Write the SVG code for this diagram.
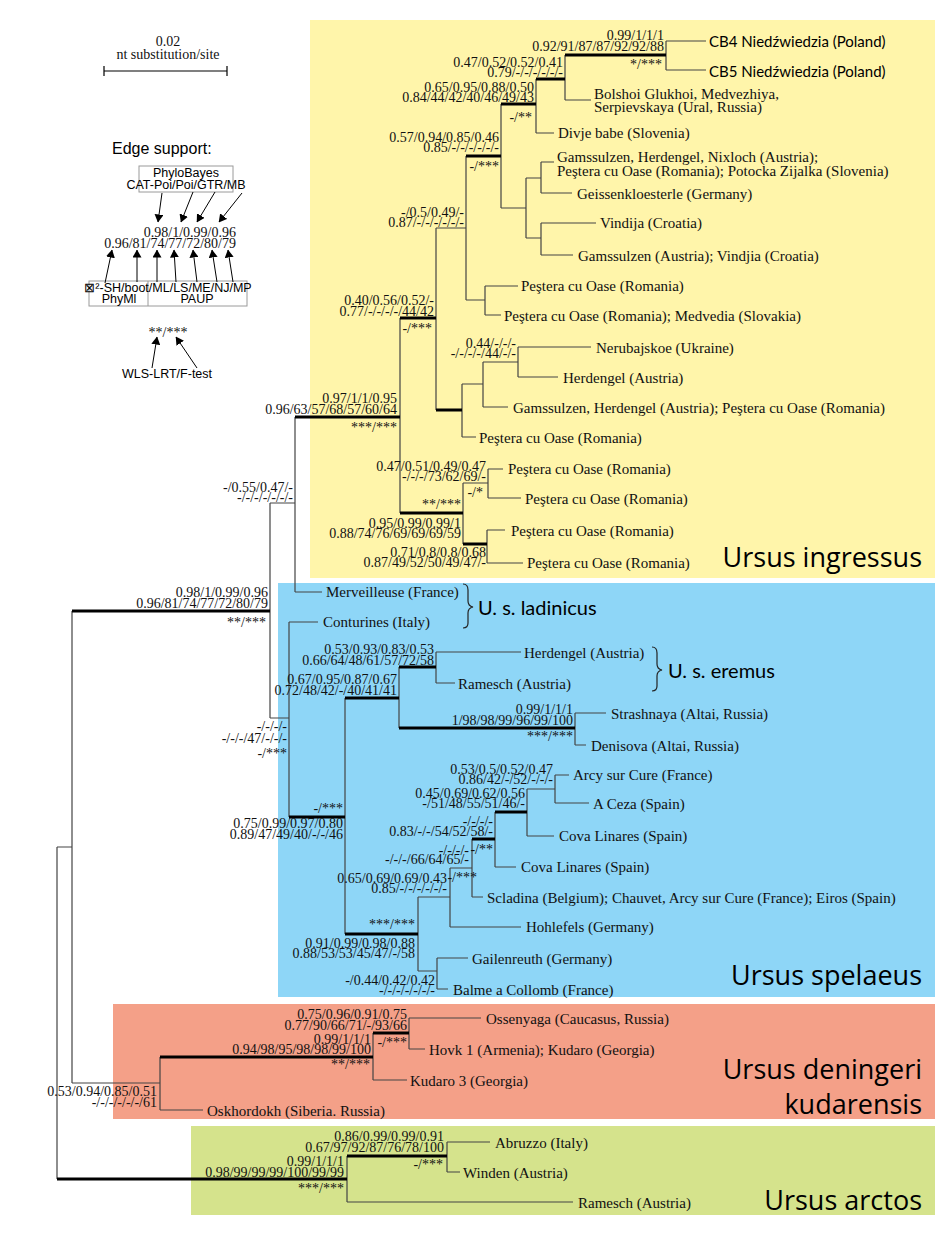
<svg xmlns="http://www.w3.org/2000/svg" width="945" height="1254" viewBox="0 0 945 1254">
<defs>
<marker id="ah" markerWidth="8" markerHeight="9" refX="7.5" refY="4.5" orient="auto" markerUnits="userSpaceOnUse"><path d="M0,0 L8,4.5 L0,9 z" fill="#000"/></marker>
<style>
.b{stroke:#444;stroke-width:1.2;fill:none}
.k{stroke:#000;stroke-width:3;fill:none}
.n{font-family:"Liberation Serif",serif;font-size:14px;fill:#111;text-anchor:end;dominant-baseline:central}
.tx{font-family:"Liberation Serif",serif;font-size:15px;fill:#111;dominant-baseline:central}
.ss{font-family:Lato,"Open Sans",sans-serif;fill:#000;dominant-baseline:central}
.big{font-family:"Open Sans","Noto Sans",sans-serif;font-size:27px;fill:#000;text-anchor:end;dominant-baseline:central}
.lg{font-family:"Liberation Sans",Arial,sans-serif;fill:#000;dominant-baseline:central}
.c{text-anchor:middle}
.ar{stroke:#000;stroke-width:1;fill:none;marker-end:url(#ah)}
.bx{fill:none;stroke:#9a9a9a;stroke-width:1}
</style>
</defs>
<rect width="945" height="1254" fill="#fff"/>
<g id="clade-boxes">
<rect x="310" y="20" width="625" height="558" fill="#FFF5AA"/>
<rect x="278" y="583" width="657" height="414" fill="#8ED6F7"/>
<rect x="113" y="1004" width="822" height="115" fill="#F4A088"/>
<rect x="191" y="1126" width="744" height="89" fill="#D5E38C"/>
</g>
<g id="legend">
<text class="tx c" x="168" y="41" style="font-size:14px">0.02</text>
<text class="tx c" x="168" y="54" style="font-size:14px">nt substitution/site</text>
<path class="b" style="stroke:#000" d="M104,71H227M104,66V76M227,66V76"/>
<text class="lg" x="112" y="148" style="font-size:16px">Edge support:</text>
<rect class="bx" x="139" y="166" width="94" height="26"/>
<text class="lg c" x="186" y="173" style="font-size:12.5px">PhyloBayes</text>
<text class="lg c" x="186" y="185" style="font-size:12.5px">CAT-Poi/Poi/GTR/MB</text>
<text class="n" x="236" y="232">0.98/1/0.99/0.96</text>
<text class="n" x="236" y="243">0.96/81/74/77/72/80/79</text>
<path class="ar" d="M162,193L158,222"/>
<path class="ar" d="M193,192L181,222"/>
<path class="ar" d="M215,192L197,222"/>
<path class="ar" d="M242,193L219,222"/>
<rect class="bx" x="89" y="281" width="158" height="25"/>
<path class="bx" d="M148,281V306"/>
<text class="lg c" x="168" y="288" style="font-size:12.5px">⊠²-SH/boot/ML/LS/ME/NJ/MP</text>
<text class="lg c" x="119" y="299" style="font-size:12.5px">PhyMl</text>
<text class="lg c" x="197" y="299" style="font-size:12.5px">PAUP</text>
<path class="ar" d="M105,283L112,250"/>
<path class="ar" d="M137,282L137,250"/>
<path class="ar" d="M157,282L157,250"/>
<path class="ar" d="M176,282L174,250"/>
<path class="ar" d="M197,282L193,250"/>
<path class="ar" d="M217,282L212,250"/>
<path class="ar" d="M233,282L228,250"/>
<text class="n c" x="168" y="332">**/***</text>
<path class="ar" d="M152,368L157,337"/>
<path class="ar" d="M197,368L176,337"/>
<text class="lg c" x="167" y="374" style="font-size:12.5px">WLS-LRT/F-test</text>
</g>
<g id="connectors">
<path class="b" d="M57,847V1179M57,847H72M72,611V1083M72,1083H160M270,503V718M270,503H295M270,718H289M295,417V592M295,592H322"/>
<path class="b" d="M400,318V513M436,228V410M436,228H466M466,156V300M466,300H485M501,104V208M501,208H526M536,79V133M536,133H554M565,55V100M565,100H591M666,41V70M666,41H706M666,70H706M526,178V238M526,178H541M526,238H541M541,162V193M541,162H554M541,193H572M541,223V255M541,223H596M541,255H573M485,286V315M485,286H518M485,315H501M462,384V437M462,384H483M462,437H476M483,362V407M483,362H518M483,407H508M518,347V377M518,347H591M518,377H558M463,483V544M463,483H488M488,469V498M488,469H503M488,498H521M487,530V563M487,530H505M487,563H523"/>
<path class="b" d="M289,622V817M289,622H318M345,698V934M399,667V728M436,652V683M436,652H521M436,683H455M575,713V745M575,713H606M575,745H586M418,897V971M418,897H450M418,971H437M437,958V989M437,958H468M437,989H448M450,868V927M450,868H472M450,927H521M472,839V897M472,897H483M495,812V867M495,867H516M527,789V836M527,789H555M527,836H554M555,775V803M555,775H569M555,803H589"/>
<path class="b" d="M160,1057V1110M160,1110H203M373,1033V1080M373,1080H407M409,1018V1049M409,1018H481M409,1049H425M347,1156V1202M347,1202H573M447,1142V1172M447,1142H490M447,1172H460"/>
<path class="k" d="M72,611H270M57,1179H347M295,417H400M400,318H436M400,513H463M436,410H462M466,156H501M501,104H536M536,79H565M565,55H666M463,544H487M289,817H345M345,698H399M345,934H418M399,667H436M399,728H575M472,839H495M495,812H527M160,1057H373M373,1033H409M347,1156H447"/>
<path class="b" style="stroke:#222" d="M463,584q5,0 5,6v11q0,5 5,6q-5,1 -5,6v10q0,5 -5,5"/>
<path class="b" style="stroke:#222" d="M652,647q5,0 5,6v11q0,5 5,6q-5,1 -5,6v10q0,5 -5,5"/>
</g>
<g id="taxa">
<g id="t-cb4"><text class="ss" x="709" y="41" style="font-size:15px">CB4  Niedźwiedzia (Poland)</text></g>
<g id="t-cb5"><text class="ss" x="709" y="71" style="font-size:15px">CB5  Niedźwiedzia (Poland)</text></g>
<g id="t-bolshoi"><text class="tx" x="594" y="94">Bolshoi Glukhoi, Medvezhiya,</text><text class="tx" x="594" y="107">Serpievskaya (Ural, Russia)</text></g>
<g id="t-divje"><text class="tx" x="558" y="133">Divje babe (Slovenia)</text></g>
<g id="t-gams1"><text class="tx" x="557" y="157">Gamssulzen, Herdengel, Nixloch (Austria);</text><text class="tx" x="557" y="171">Peştera cu Oase (Romania); Potocka Zijalka (Slovenia)</text></g>
<g id="t-geiss"><text class="tx" x="577" y="194">Geissenkloesterle (Germany)</text></g>
<g id="t-vindija"><text class="tx" x="600" y="223">Vindija (Croatia)</text></g>
<g id="t-gams2"><text class="tx" x="578" y="256">Gamssulzen (Austria); Vindjia (Croatia)</text></g>
<g id="t-oase1"><text class="tx" x="521" y="286">Peştera cu Oase (Romania)</text></g>
<g id="t-oase2"><text class="tx" x="504" y="316">Peştera cu Oase (Romania); Medvedia (Slovakia)</text></g>
<g id="t-nerub"><text class="tx" x="596" y="348">Nerubajskoe (Ukraine)</text></g>
<g id="t-herd1"><text class="tx" x="563" y="378">Herdengel (Austria)</text></g>
<g id="t-gams3"><text class="tx" x="513" y="408">Gamssulzen, Herdengel (Austria); Peştera cu Oase (Romania)</text></g>
<g id="t-oase3"><text class="tx" x="479" y="438">Peştera cu Oase (Romania)</text></g>
<g id="t-oase4"><text class="tx" x="508" y="469">Peştera cu Oase (Romania)</text></g>
<g id="t-oase5"><text class="tx" x="525" y="499">Peştera cu Oase (Romania)</text></g>
<g id="t-oase6"><text class="tx" x="511" y="531">Peştera cu Oase (Romania)</text></g>
<g id="t-oase7"><text class="tx" x="527" y="563">Peştera cu Oase (Romania)</text></g>
<g id="t-merv"><text class="tx" x="326" y="592">Merveilleuse (France)</text></g>
<g id="t-contur"><text class="tx" x="323" y="622">Conturines (Italy)</text></g>
<g id="t-herd2"><text class="tx" x="524" y="653">Herdengel (Austria)</text></g>
<g id="t-ram1"><text class="tx" x="458" y="684">Ramesch (Austria)</text></g>
<g id="t-strash"><text class="tx" x="611" y="714">Strashnaya (Altai, Russia)</text></g>
<g id="t-denis"><text class="tx" x="591" y="746">Denisova (Altai, Russia)</text></g>
<g id="t-arcy"><text class="tx" x="573" y="775">Arcy sur Cure (France)</text></g>
<g id="t-aceza"><text class="tx" x="593" y="804">A Ceza (Spain)</text></g>
<g id="t-cova1"><text class="tx" x="559" y="836">Cova Linares (Spain)</text></g>
<g id="t-cova2"><text class="tx" x="521" y="867">Cova Linares (Spain)</text></g>
<g id="t-scladina"><text class="tx" x="487" y="898">Scladina (Belgium); Chauvet, Arcy sur Cure (France); Eiros (Spain)</text></g>
<g id="t-hohle"><text class="tx" x="526" y="927">Hohlefels (Germany)</text></g>
<g id="t-gailen"><text class="tx" x="472" y="959">Gailenreuth (Germany)</text></g>
<g id="t-balme"><text class="tx" x="453" y="990">Balme a Collomb (France)</text></g>
<g id="t-ossen"><text class="tx" x="486" y="1019">Ossenyaga (Caucasus, Russia)</text></g>
<g id="t-hovk"><text class="tx" x="429" y="1050">Hovk 1 (Armenia); Kudaro (Georgia)</text></g>
<g id="t-kudaro3"><text class="tx" x="410" y="1081">Kudaro 3 (Georgia)</text></g>
<g id="t-oskh"><text class="tx" x="207" y="1111">Oskhordokh (Siberia. Russia)</text></g>
<g id="t-abruzzo"><text class="tx" x="495" y="1143">Abruzzo (Italy)</text></g>
<g id="t-winden"><text class="tx" x="463" y="1173">Winden (Austria)</text></g>
<g id="t-ram2"><text class="tx" x="578" y="1203">Ramesch (Austria)</text></g>
</g>
<g id="clade-labels">
<g id="l-ingressus"><text class="big" x="922" y="556">Ursus ingressus</text></g>
<g id="l-ladinicus"><text class="ss" x="478" y="607" style="font-size:20px">U. s. ladinicus</text></g>
<g id="l-eremus"><text class="ss" x="668" y="670" style="font-size:20px">U. s. eremus</text></g>
<g id="l-spelaeus"><text class="big" x="922" y="974">Ursus spelaeus</text></g>
<g id="l-deningeri"><text class="big" x="922" y="1068">Ursus deningeri</text><text class="big" x="922" y="1103">kudarensis</text></g>
<g id="l-arctos"><text class="big" x="922" y="1199">Ursus arctos</text></g>
</g>
<g id="supports">
<g id="n-I"><text class="n" x="664" y="35">0.99/1/1/1</text><text class="n" x="664" y="46">0.92/91/87/87/92/92/88</text><text class="n" x="662" y="64">*/***</text></g>
<g id="n-H"><text class="n" x="563" y="62">0.47/0.52/0.52/0.41</text><text class="n" x="563" y="72">0.79/-/-/-/-/-/-</text></g>
<g id="n-G"><text class="n" x="534" y="87">0.65/0.95/0.88/0.50</text><text class="n" x="534" y="97">0.84/44/42/40/46/49/43</text><text class="n" x="532" y="117">-/**</text></g>
<g id="n-F"><text class="n" x="499" y="137">0.57/0.94/0.85/0.46</text><text class="n" x="499" y="147">0.85/-/-/-/-/-/-</text><text class="n" x="499" y="166">-/***</text></g>
<g id="n-E"><text class="n" x="464" y="212">-/0.5/0.49/-</text><text class="n" x="464" y="222">0.87/-/-/-/-/-/-</text></g>
<g id="n-D"><text class="n" x="434" y="300">0.40/0.56/0.52/-</text><text class="n" x="434" y="311">0.77/-/-/-/-/44/42</text><text class="n" x="432" y="328">-/***</text></g>
<g id="n-P"><text class="n" x="516" y="343">0.44/-/-/-</text><text class="n" x="516" y="353">-/-/-/-/44/-/-</text></g>
<g id="n-C"><text class="n" x="397" y="398">0.97/1/1/0.95</text><text class="n" x="397" y="409">0.96/63/57/68/57/60/64</text><text class="n" x="397" y="427">***/***</text></g>
<g id="n-R"><text class="n" x="486" y="466">0.47/0.51/0.49/0.47</text><text class="n" x="486" y="476">-/-/-/73/62/69/-</text><text class="n" x="483" y="492">-/*</text></g>
<g id="n-Q"><text class="n" x="461" y="504">**/***</text><text class="n" x="461" y="523">0.95/0.99/0.99/1</text><text class="n" x="461" y="533">0.88/74/76/69/69/69/59</text></g>
<g id="n-S"><text class="n" x="486" y="552">0.71/0.8/0.8/0.68</text><text class="n" x="486" y="562">0.87/49/52/50/49/47/-</text></g>
<g id="n-M295"><text class="n" x="293" y="487">-/0.55/0.47/-</text><text class="n" x="293" y="497">-/-/-/-/-/-/-</text></g>
<g id="n-B"><text class="n" x="268" y="592">0.98/1/0.99/0.96</text><text class="n" x="268" y="603">0.96/81/74/77/72/80/79</text><text class="n" x="266" y="622">**/***</text></g>
<g id="n-S2"><text class="n" x="287" y="726">-/-/-/-</text><text class="n" x="287" y="738">-/-/-/47/-/-/-</text><text class="n" x="287" y="753">-/***</text></g>
<g id="n-V"><text class="n" x="434" y="649">0.53/0.93/0.83/0.53</text><text class="n" x="434" y="660">0.66/64/48/61/57/72/58</text></g>
<g id="n-U"><text class="n" x="397" y="679">0.67/0.95/0.87/0.67</text><text class="n" x="397" y="690">0.72/48/42/-/40/41/41</text></g>
<g id="n-W"><text class="n" x="573" y="709">0.99/1/1/1</text><text class="n" x="573" y="720">1/98/98/99/96/99/100</text><text class="n" x="573" y="736">***/***</text></g>
<g id="n-T"><text class="n" x="343" y="808">-/***</text><text class="n" x="343" y="823">0.75/0.99/0.97/0.80</text><text class="n" x="343" y="834">0.89/47/49/40/-/-/46</text></g>
<g id="n-X"><text class="n" x="553" y="769">0.53/0.5/0.52/0.47</text><text class="n" x="553" y="779">0.86/42/-/52/-/-/-</text></g>
<g id="n-Y"><text class="n" x="525" y="793">0.45/0.69/0.62/0.56</text><text class="n" x="525" y="803">-/51/48/55/51/46/-</text></g>
<g id="n-Z"><text class="n" x="493" y="821">-/-/-/-</text><text class="n" x="493" y="831">0.83/-/-/54/52/58/-</text><text class="n" x="493" y="849">-/**</text></g>
<g id="n-AA"><text class="n" x="469" y="850">-/-/-/-</text><text class="n" x="469" y="859">-/-/-/66/64/65/-</text><text class="n" x="477" y="877">-/***</text></g>
<g id="n-AB"><text class="n" x="447" y="878">0.65/0.69/0.69/0.43</text><text class="n" x="447" y="888">0.85/-/-/-/-/-/-</text></g>
<g id="n-AC"><text class="n" x="415" y="924">***/***</text><text class="n" x="415" y="943">0.91/0.99/0.98/0.88</text><text class="n" x="415" y="953">0.88/53/53/45/47/-/58</text></g>
<g id="n-AD"><text class="n" x="435" y="980">-/0.44/0.42/0.42</text><text class="n" x="435" y="990">-/-/-/-/-/-/-</text></g>
<g id="n-DB"><text class="n" x="407" y="1014">0.75/0.96/0.91/0.75</text><text class="n" x="407" y="1025">0.77/90/66/71/-/93/66</text><text class="n" x="407" y="1042">-/***</text></g>
<g id="n-DA"><text class="n" x="371" y="1039">0.99/1/1/1</text><text class="n" x="371" y="1049">0.94/98/95/98/98/99/100</text><text class="n" x="370" y="1064">**/***</text></g>
<g id="n-DEN"><text class="n" x="157" y="1091">0.53/0.94/0.85/0.51</text><text class="n" x="157" y="1102">-/-/-/-/-/-/61</text></g>
<g id="n-AS"><text class="n" x="444" y="1136">0.86/0.99/0.99/0.91</text><text class="n" x="444" y="1147">0.67/97/92/87/76/78/100</text><text class="n" x="443" y="1164">-/***</text></g>
<g id="n-AR"><text class="n" x="344" y="1161">0.99/1/1/1</text><text class="n" x="344" y="1172">0.98/99/99/99/100/99/99</text><text class="n" x="344" y="1188">***/***</text></g>
</g>
</svg>
